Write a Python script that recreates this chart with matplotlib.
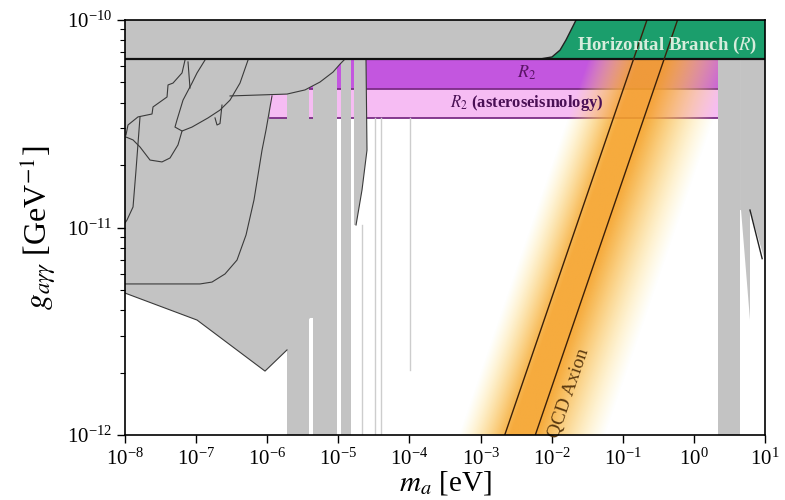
import numpy as np
import matplotlib
matplotlib.use("Agg")
import matplotlib.pyplot as plt
from matplotlib.colors import to_rgb
from matplotlib.transforms import Affine2D

plt.rcParams["font.family"] = ["Liberation Serif", "DejaVu Serif"]
plt.rcParams["mathtext.fontset"] = "stix"

# plot range (log10 of mass in eV and coupling in GeV^-1)
LOGM_RANGE = (-8.0, 1.0)
LOGG_RANGE = (-12.0, -10.0)

# stellar bounds
G_HB = 6.5e-11
G_R2 = 4.65e-11
G_ASTERO = 3.37e-11
R2_MASS = (1.1e-6, 2.18)

# QCD axion: log10(g/m) of the two model lines and the band around them
QCD_LINES = [-9.34, -9.77]
QCD_BAND_CENTRE = -9.58
QCD_BAND_HALF_UP = 0.88    # towards lighter masses
QCD_BAND_HALF_DOWN = 1.18  # towards heavier masses

# helioscope limit sitting on top of the HB bound
HELIO_LOGM = [-8.0, -2.163, -1.995, -1.882, -1.798, -1.714, -1.657, -8.0]
HELIO_LOGG = [-10.188, -10.188, -10.178, -10.145, -10.096, -10.039, -10.0, -10.0]

# large low-mass exclusion (lab + astro limits merged)
BIG_LOGM = [-8.0, -5.019, -5.019, -5.398, -5.722, -6.031, -6.987, -8.0]
BIG_LOGG = [-10.188, -10.188, -11.436, -11.436, -11.590, -11.692, -11.446, -11.316]

# bulge limit drawn above the R2 bands
BULGE_LOGM = [-6.523, -4.906, -4.975, -5.075, -5.258, -5.469, -5.722, -6.523]
BULGE_LOGG = [-10.188, -10.188, -10.212, -10.251, -10.299, -10.337, -10.357, -10.366]

# haloscope strips (log10 m from, to), full height
HALO_STRIPS = [(-5.722, -5.412), (-5.356, -5.019), (-4.962, -4.822)]
SLIVER_LOGM = [-4.780, -4.611, -4.597, -4.667, -4.751, -4.780]
SLIVER_LOGG = [-10.188, -10.188, -10.627, -10.819, -10.988, -10.988]

# narrow haloscope lines: log10 m, top, bottom
THIN_LOGM = [-4.667, -4.484, -4.400, -3.992]
THIN_TOP = [-10.988, -10.472, -10.472, -10.472]
THIN_BOT = [-12.0, -12.0, -12.0, -11.687]

# high-mass limits
RIGHT_STRIP = (0.339, 0.649)
RIGHT_LOGM = [0.649, 1.0, 1.0, 0.789, 0.789, 0.663, 0.649]
RIGHT_LOGG = [-10.188, -10.188, -11.16, -10.916, -11.446, -10.916, -10.916]
RIGHT_EDGE_LOGM = [0.789, 0.96]
RIGHT_EDGE_LOGG = [-10.916, -11.15]

# outlines of individual limits inside the grey region
OUTLINES = {
    "tongue_left": ([-7.156, -7.198, -7.325, -7.395, -7.409, -7.606, -7.620, -7.817, -7.958, -7.986],
                    [-10.193, -10.255, -10.304, -10.313, -10.371, -10.419, -10.453, -10.467, -10.506, -10.554]),
    "loop": ([-7.986, -7.887, -7.789, -7.648, -7.480, -7.367, -7.255, -7.198],
             [-10.564, -10.578, -10.612, -10.675, -10.684, -10.665, -10.602, -10.535]),
    "tongue_right": ([-6.875, -6.987, -7.058, -7.184, -7.269, -7.297, -7.198, -7.058, -6.833, -6.664, -6.523, -6.383, -6.270],
                     [-10.193, -10.255, -10.304, -10.386, -10.482, -10.516, -10.535, -10.516, -10.472, -10.434, -10.386, -10.304, -10.193]),
    "inner": ([-7.114, -7.086], [-10.202, -10.328]),
    "spike": ([-6.734, -6.706, -6.664, -6.636], [-10.472, -10.506, -10.499, -10.410]),
    "long": ([-7.789, -7.845, -7.887, -7.972, -8.0], [-10.467, -10.723, -10.901, -10.964, -10.978]),
    "curve": ([-5.933, -6.017, -6.073, -6.186, -6.298, -6.425, -6.594, -6.777, -6.945, -8.0],
              [-10.366, -10.530, -10.627, -10.867, -11.036, -11.157, -11.224, -11.263, -11.272, -11.272]),
    "bulge": (BULGE_LOGM[1:], BULGE_LOGG[1:]),
    "lower": ([-5.722, -6.031, -6.987, -8.0], [-11.590, -11.692, -11.446, -11.316]),
    "sliver": (SLIVER_LOGM[1:5], SLIVER_LOGG[1:5]),
}

GREY = "#c3c3c3"
GREEN = "#1b9e6c"
PURPLE = "#c356df"
PINK = "#f6bcf3"
EDGE_PURPLE = "#7b2c86"


def p(v):
    return 10 ** np.asarray(v, dtype=float)


fig = plt.figure(figsize=(7.85, 5.0), dpi=100)
ax = fig.add_axes([125 / 785, 65 / 500, 640 / 785, 415 / 500])
ax.set_xscale("log")
ax.set_yscale("log")

m_lo, m_hi = p(LOGM_RANGE)
g_lo, g_hi = p(LOGG_RANGE)

# horizontal branch (green) and helioscope on top of it
ax.fill_between([m_lo, m_hi], G_HB, g_hi, color=GREEN, lw=0, zorder=0.5)
ax.fill(p(HELIO_LOGM), p(HELIO_LOGG), color=GREY, lw=0, zorder=1)
ax.plot(p(HELIO_LOGM[1:7]), p(HELIO_LOGG[1:7]), color="#222222", lw=1.0, zorder=1.1)

# low-mass grey region
ax.fill(p(BIG_LOGM), p(BIG_LOGG), color=GREY, lw=0, zorder=1)

# R2 bands
ax.fill_between(R2_MASS, G_R2, G_HB, color=PURPLE, lw=0, zorder=2)
ax.fill_between(R2_MASS, G_ASTERO, G_R2, color=PINK, lw=0, zorder=2)
ax.plot(R2_MASS, [G_R2, G_R2], color=EDGE_PURPLE, lw=1.3, zorder=2.2)
ax.plot(R2_MASS, [G_ASTERO, G_ASTERO], color=EDGE_PURPLE, lw=1.3, zorder=2.2)

# QCD axion glow, drawn as an image in log-log coordinates
nx, ny = 900, 300
lm_grid = np.linspace(LOGM_RANGE[0], LOGM_RANGE[1], nx)
lg_grid = np.linspace(LOGG_RANGE[0], LOGG_RANGE[1], ny)
LM, LG = np.meshgrid(lm_grid, lg_grid)
du = (LG - LM) - QCD_BAND_CENTRE
d = np.where(du > 0, du / QCD_BAND_HALF_UP, -du / QCD_BAND_HALF_DOWN)
s = np.clip((d - 0.18) / 0.82, 0, 1)
orange = np.array(to_rgb("#f5a228"))
yellow = np.array(to_rgb("#ffe98a"))
rgba = np.zeros((ny, nx, 4))
for k in range(3):
    rgba[..., k] = orange[k] * (1 - s) + yellow[k] * s
rgba[..., 3] = np.clip(0.9 * (1 - s ** 1.3), 0, 1)
rgba[LG > np.log10(G_HB), 3] = 0
to_axes = Affine2D().scale(1 / (LOGM_RANGE[1] - LOGM_RANGE[0]), 1 / (LOGG_RANGE[1] - LOGG_RANGE[0]))
to_axes = to_axes.translate(-LOGM_RANGE[0] / (LOGM_RANGE[1] - LOGM_RANGE[0]),
                            -LOGG_RANGE[0] / (LOGG_RANGE[1] - LOGG_RANGE[0]))
ax.imshow(rgba, origin="lower", aspect="auto", interpolation="bilinear",
          extent=[LOGM_RANGE[0], LOGM_RANGE[1], LOGG_RANGE[0], LOGG_RANGE[1]],
          transform=to_axes + ax.transAxes, zorder=2.6)

# grey limits drawn above the R2 bands
ax.fill(p(BULGE_LOGM), p(BULGE_LOGG), color=GREY, lw=0, zorder=3)
for lo, hi in HALO_STRIPS:
    ax.fill_between(p([lo, hi]), g_lo, G_HB, color=GREY, lw=0, zorder=3)
ax.fill(p(SLIVER_LOGM), p(SLIVER_LOGG), color=GREY, lw=0, zorder=3)
for lm, top, bot in zip(THIN_LOGM, THIN_TOP, THIN_BOT):
    ax.plot(p([lm, lm]), p([bot, top]), color="#cdcdcd", lw=1.0, zorder=3)

ax.fill_between(p(RIGHT_STRIP), g_lo, G_HB, color=GREY, lw=0, zorder=3)
ax.fill(p(RIGHT_LOGM), p(RIGHT_LOGG), color=GREY, lw=0, zorder=3)
ax.plot(p(RIGHT_EDGE_LOGM), p(RIGHT_EDGE_LOGG), color="#222222", lw=1.0, zorder=3.2)

for xs, ys in OUTLINES.values():
    ax.plot(p(xs), p(ys), color="#3a3a3a", lw=0.8, zorder=3.2)

# HB line and QCD model lines
ax.plot([m_lo, m_hi], [G_HB, G_HB], color="#111111", lw=1.6, zorder=4)
g_line = np.array([g_lo, g_hi])
for u in QCD_LINES:
    ax.plot(g_line / 10 ** u, g_line, color="#3b200a", lw=1.0, zorder=4)

# labels
ax.text(10 ** 0.89, 10 ** -10.125, r"Horizontal Branch ($R$)", ha="right", va="center",
        fontsize=13.5, fontweight="bold", color="#d6ecdc", zorder=5)
ax.text(4.5e-3, 10 ** -10.255, r"$R_2$", ha="center", va="center",
        fontsize=13, color="#5a1466", zorder=5)
ax.text(4.5e-3, 10 ** -10.40, r"$R_2$ (asteroseismology)", ha="center", va="center",
        fontsize=12, fontweight="bold", color="#4a1055", zorder=5)
ax.text(10 ** -1.75, 10 ** -11.80, "QCD Axion", ha="center", va="center",
        rotation=71, rotation_mode="anchor", fontsize=14, color="#5c3a10", zorder=5)

ax.set_xlim(m_lo, m_hi)
ax.set_ylim(g_lo, g_hi)
ax.set_xticks(p(np.arange(-8, 2)))
ax.set_yticks(p([-12, -11, -10]))
ax.tick_params(which="both", direction="out", top=False, right=False, labelsize=15)
ax.tick_params(which="major", length=6, width=1.0)
ax.tick_params(which="minor", length=3.5, width=0.8)
for sp in ax.spines.values():
    sp.set_linewidth(1.2)
    sp.set_zorder(6)

ax.set_xlabel(r"$m_a$ [eV]", fontsize=21, labelpad=0)
ax.set_ylabel(r"$g_{a\gamma\gamma}$ [GeV$^{-1}$]", fontsize=23, labelpad=6)

fig.savefig("out.png", dpi=100)
